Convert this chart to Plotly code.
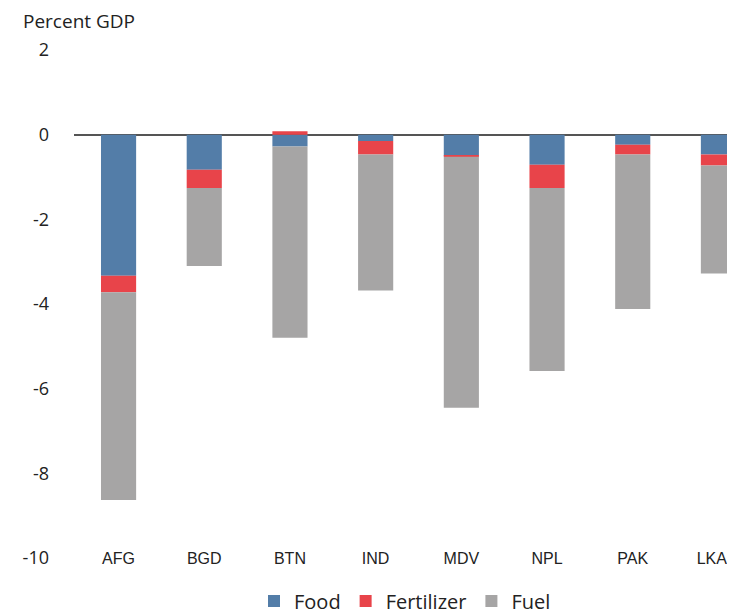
import plotly.graph_objects as go

countries = ["AFG", "BGD", "BTN", "IND", "MDV", "NPL", "PAK", "LKA"]
food = [-3.33, -0.83, -0.28, -0.15, -0.50, -0.71, -0.24, -0.47]
fertilizer = [-0.39, -0.43, 0.08, -0.32, -0.02, -0.55, -0.23, -0.26]
fuel = [-4.91, -1.84, -4.52, -3.21, -5.93, -4.32, -3.65, -2.55]
y_ticks = [2, 0, -2, -4, -6, -8, -10]
# last label nudged left with trailing no-break spaces so it stays inside the visible page
x_ticktext = countries[:-1] + [countries[-1] + "\u00a0\u00a0\u00a0"]

# page body has an 8px margin; visible drawing area ends at x=727
OFF = 8
W, H = 735 - OFF, 614 - OFF
def px(x):
    return (x - OFF) / W
def py(y):
    return 1 - (y - OFF) / H

fig = go.Figure()
fig.add_trace(go.Bar(x=countries, y=food, name="Food", marker=dict(color="#537DA8", line=dict(width=0))))
fig.add_trace(go.Bar(x=countries, y=fertilizer, name="Fertilizer", marker=dict(color="#E8444A", line=dict(width=0))))
fig.add_trace(go.Bar(x=countries, y=fuel, name="Fuel", marker=dict(color="#A6A5A5", line=dict(width=0))))

fig.update_layout(
    width=W, height=H,
    margin=dict(l=0, r=0, t=0, b=0, autoexpand=False),
    paper_bgcolor="white", plot_bgcolor="white",
    barmode="relative", bargap=0.59,
    font=dict(family="Open Sans, Liberation Sans, sans-serif", size=18, color="#222222"),
    xaxis=dict(
        domain=[px(74), px(727)], range=[-0.52, 7.1],
        anchor="free", position=py(547),
        tickvals=countries, ticktext=x_ticktext,
        showline=False, showgrid=False, zeroline=False, ticks="",
        tickfont=dict(family="Liberation Sans, Arial, sans-serif", size=16, color="#222222"),
        automargin=False,
    ),
    yaxis=dict(
        domain=[py(558), py(50)], range=[-10, 2],
        tickvals=y_ticks, ticktext=[str(v) for v in y_ticks],
        showgrid=False, showline=False, ticks="",
        zeroline=True, zerolinecolor="#555555", zerolinewidth=2,
        ticklabelstandoff=24,
        tickfont=dict(size=18, color="#222222"),
        automargin=False,
    ),
    legend=dict(
        orientation="h", x=px(405), xanchor="center", y=py(601), yanchor="middle",
        font=dict(size=20, color="#222222"), itemwidth=30, bgcolor="rgba(0,0,0,0)",
        tracegroupgap=0,
    ),
    annotations=[dict(
        text="Percent GDP", xref="paper", yref="paper", x=px(21), y=py(21),
        xanchor="left", yanchor="middle", showarrow=False,
        font=dict(size=19, color="#222222"),
    )],
)

fig.write_html("out.html")
